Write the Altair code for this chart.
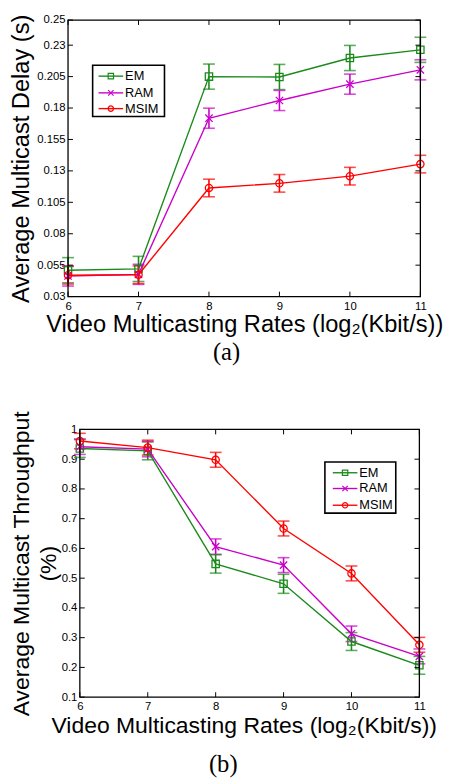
import altair as alt
import pandas as pd

# ---------------- data ----------------
x_rates = [6, 7, 8, 9, 10, 11]
series_names = ["EM", "RAM", "MSIM"]
series_colors = ["#1a8a1a", "#c800c8", "#ff0000"]
series_shapes = ["square", "M-1,-1L1,1M-1,1L1,-1", "circle"]

delay_em = [0.0510, 0.0520, 0.2050, 0.2047, 0.2198, 0.2263]
delay_ram = [0.0464, 0.0477, 0.1719, 0.1860, 0.1990, 0.2104]
delay_msim = [0.0470, 0.0474, 0.1164, 0.1201, 0.1258, 0.1354]
delay_err_em = [0.010, 0.010, 0.010, 0.010, 0.010, 0.010]
delay_err_ram = [0.008, 0.008, 0.008, 0.008, 0.008, 0.008]
delay_err_msim = [0.007, 0.007, 0.007, 0.007, 0.007, 0.007]

thr_em = [0.936, 0.928, 0.548, 0.481, 0.287, 0.207]
thr_ram = [0.942, 0.934, 0.606, 0.544, 0.313, 0.237]
thr_msim = [0.961, 0.939, 0.898, 0.667, 0.516, 0.276]
thr_err_em = [0.030, 0.030, 0.031, 0.032, 0.030, 0.030]
thr_err_ram = [0.026, 0.026, 0.026, 0.025, 0.026, 0.025]
thr_err_msim = [0.026, 0.025, 0.025, 0.025, 0.025, 0.025]

delay_yticks = [0.03, 0.055, 0.08, 0.105, 0.13, 0.155, 0.18, 0.205, 0.23, 0.25]
thr_yticks = [0.1, 0.2, 0.3, 0.4, 0.5, 0.6, 0.7, 0.8, 0.9, 1.0]

FONT = "Liberation Sans"
SERIF = "Liberation Serif"
XTITLE = "Video Multicasting Rates (log\u2082(Kbit/s))"


def long_df(vals, errs):
    rows = []
    for name, v, e in zip(series_names, vals, errs):
        for x, y, err in zip(x_rates, v, e):
            rows.append({"x": x, "series": name, "y": y, "lo": y - err, "hi": y + err})
    return pd.DataFrame(rows)


def panel(df, yticks, ydomain, yfmt, ytitle, ytitle_size, ytitle_lh, width, height,
          xdomain, frame_left, yaxis_offset, ytitle_pad, xtitle_size, xtitle_pad,
          caption, caption_offset, legend):
    xscale = alt.Scale(domain=xdomain, nice=False, zero=False)
    yscale = alt.Scale(domain=ydomain, nice=False, zero=False)
    xaxis = alt.Axis(values=x_rates, format="d", ticks=False, domain=False, grid=False,
                     labelFont=FONT, labelFontSize=11.5, labelColor="black", labelPadding=4,
                     labelOverlap=False, labelBound=False, labelFlush=False,
                     title=XTITLE, titleFont=FONT, titleFontSize=xtitle_size,
                     titleFontWeight="normal", titleColor="black", titlePadding=xtitle_pad)
    yaxis = alt.Axis(values=yticks, format=yfmt, ticks=False, domain=False, grid=False,
                     offset=yaxis_offset, labelFont=FONT, labelFontSize=11.5,
                     labelColor="black", labelPadding=3, labelOverlap=False,
                     labelBound=False, labelFlush=False,
                     title=ytitle, titleFont=FONT, titleFontSize=ytitle_size,
                     titleFontWeight="normal", titleColor="black",
                     titlePadding=ytitle_pad, titleLineHeight=ytitle_lh)

    def X(f):
        return alt.X(f, scale=xscale, axis=xaxis)

    def Y(f):
        return alt.Y(f, scale=yscale, axis=yaxis)

    color = alt.Color("series:N", scale=alt.Scale(domain=series_names, range=series_colors), legend=None)
    shape = alt.Shape("series:N", scale=alt.Scale(domain=series_names, range=series_shapes), legend=None)

    base = alt.Chart(df)
    layers = []
    # error bars
    layers.append(base.mark_rule(strokeWidth=1.6).encode(
        x=X("x:Q"), y=Y("lo:Q"), y2="hi:Q", color=color))
    layers.append(base.mark_tick(orient="horizontal", size=12, thickness=1.6).encode(
        x=X("x:Q"), y=Y("lo:Q"), color=color))
    layers.append(base.mark_tick(orient="horizontal", size=12, thickness=1.6).encode(
        x=X("x:Q"), y=Y("hi:Q"), color=color))
    # lines and markers per series (MSIM drawn last)
    for name in series_names:
        d = df[df["series"] == name]
        layers.append(alt.Chart(d).mark_line(strokeWidth=1.4).encode(
            x=X("x:Q"), y=Y("y:Q"), color=color))
        layers.append(alt.Chart(d).mark_point(filled=False, size=55, strokeWidth=1.3, opacity=1).encode(
            x=X("x:Q"), y=Y("y:Q"), color=color, shape=shape))

    # frame and inward ticks
    one = alt.Data(values=[{"a": 1}])
    layers.append(alt.Chart(one).mark_rect(filled=False, stroke="black", strokeWidth=1.3).encode(
        x=alt.value(frame_left), x2=alt.value(width), y=alt.value(0), y2=alt.value(height)))
    ydf = pd.DataFrame({"v": yticks})
    xdf = pd.DataFrame({"v": x_rates})
    tk = 5
    layers.append(alt.Chart(ydf).mark_rule(color="black", strokeWidth=1).encode(
        y=Y("v:Q"), x=alt.value(frame_left), x2=alt.value(frame_left + tk)))
    layers.append(alt.Chart(ydf).mark_rule(color="black", strokeWidth=1).encode(
        y=Y("v:Q"), x=alt.value(width - tk), x2=alt.value(width)))
    layers.append(alt.Chart(xdf).mark_rule(color="black", strokeWidth=1).encode(
        x=X("v:Q"), y=alt.value(height - tk), y2=alt.value(height)))
    layers.append(alt.Chart(xdf).mark_rule(color="black", strokeWidth=1).encode(
        x=X("v:Q"), y=alt.value(0), y2=alt.value(tk)))

    # legend
    bx0, bx1, by0, by1, lx0, lx1, tx, rows = legend
    layers.append(alt.Chart(one).mark_rect(fill="white", stroke="black", strokeWidth=1.6).encode(
        x=alt.value(bx0), x2=alt.value(bx1), y=alt.value(by0), y2=alt.value(by1)))
    for name, c, s, ry in zip(series_names, series_colors, series_shapes, rows):
        d1 = alt.Data(values=[{"series": name}])
        layers.append(alt.Chart(d1).mark_rule(color=c, strokeWidth=1.4).encode(
            x=alt.value(lx0), x2=alt.value(lx1), y=alt.value(ry)))
        layers.append(alt.Chart(d1).mark_point(color=c, shape=s, filled=False, size=30, strokeWidth=1.2, opacity=1).encode(
            x=alt.value((lx0 + lx1) / 2), y=alt.value(ry)))
        layers.append(alt.Chart(d1).mark_text(align="left", baseline="middle", font=FONT, fontSize=13, color="black").encode(
            x=alt.value(tx), y=alt.value(ry), text="series:N"))

    ch = alt.layer(*layers).properties(
        width=width, height=height,
        title=alt.TitleParams(caption, orient="bottom", anchor="middle", frame="bounds",
                              font=SERIF, fontSize=25, fontWeight="normal", color="black",
                              offset=caption_offset))
    return ch


df_delay = long_df([delay_em, delay_ram, delay_msim], [delay_err_em, delay_err_ram, delay_err_msim])
df_thr = long_df([thr_em, thr_ram, thr_msim], [thr_err_em, thr_err_ram, thr_err_msim])

# top panel: plot frame 358 wide
top = panel(df_delay, delay_yticks, [0.03, 0.25], ".3~f", "Average Multicast Delay (s)",
            ytitle_size=24, ytitle_lh=28,
            width=358, height=281, xdomain=[6, 11], frame_left=0, yaxis_offset=0, ytitle_pad=3,
            xtitle_size=24, xtitle_pad=1, caption="(a)", caption_offset=4,
            legend=(25, 98, 46, 98, 31, 56, 58, [57, 74, 90]))

# bottom panel: frame starts 12px right of the top frame, 345 wide
shift = 12
bw = 345
bottom = panel(df_thr, thr_yticks, [0.1, 1.0], ".1~f", ["Average Multicast Throughput", "(%)"],
               ytitle_size=23.3, ytitle_lh=27,
               width=bw + shift, height=272, xdomain=[6 - 5 * shift / bw, 11], frame_left=shift,
               yaxis_offset=-shift, ytitle_pad=1,
               xtitle_size=23.3, xtitle_pad=2, caption="(b)", caption_offset=16,
               legend=(shift + 249, shift + 321, 33, 85, shift + 257, shift + 282, shift + 284, [44, 60, 77]))

chart = alt.vconcat(top, bottom, spacing=45).properties(
    padding={"left": 2, "top": 0, "right": 0, "bottom": 0}, background="white"
).configure_view(stroke=None)

chart.save("out.html", embed_options={"renderer": "svg", "actions": False})
